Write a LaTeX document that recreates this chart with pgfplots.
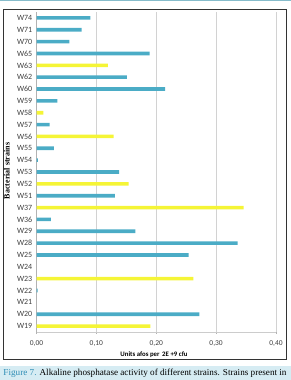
\documentclass[border=0pt]{standalone}
\usepackage{pgfplots}
\pgfplotsset{compat=1.18}
\usepackage{fontspec}
\setmainfont{Liberation Serif}
\newfontfamily\calib{Carlito}
\definecolor{barblue}{HTML}{4BACC6}
\definecolor{baryel}{HTML}{F5F536}
\definecolor{capbg}{HTML}{D6ECF3}
\definecolor{capblue}{HTML}{2E8DB5}
\definecolor{topline}{HTML}{86BCCB}
\begin{document}
\begin{tikzpicture}[x=1pt,y=1pt]
\useasboundingbox (0,0) rectangle (291,380);
\fill[capbg] (0,0) rectangle (291,14.3);
\draw[topline,line width=1.4pt] (0,379.3) -- (291,379.3);
\draw[black!80,line width=0.8pt] (3,371) rectangle (286,21);
\begin{axis}[
  at={(36.5pt,48pt)}, anchor=south west,
  width=239.5pt, height=320pt, scale only axis,
  xmin=0, xmax=0.40, ymin=-0.5, ymax=26.5,
  xbar, bar width=3.6pt,
  axis line style={draw=none},
  axis x line*=bottom, axis y line*=left,
  xtick={0,0.1,0.2,0.3,0.4},
  xticklabel={\pgfmathprintnumber[fixed,fixed zerofill,precision=2,use comma]{\tick}},
  /pgf/number format/assume math mode=true,
  xmajorgrids, major grid style={gray!35,line width=0.9pt},
  x tick style={gray!60}, major tick length=2pt,
  tick align=outside,
  ytick={0,...,26},
  yticklabels={W19,W20,W21,W22,W23,W24,W25,W28,W29,W36,W37,W51,W52,W53,W54,W55,W56,W57,W58,W59,W60,W62,W63,W65,W70,W71,W74},
  y tick style={draw=none},
  minor ytick={-0.5,0.5,...,26.5},
  minor y tick style={gray!60}, minor tick length=2pt,
  ticklabel style={font=\calib\fontsize{8}{9}\selectfont, text=black!75},
  xticklabel style={font=\calib\fontsize{7.5}{8}\selectfont, yshift=-3pt},
  yticklabel style={inner sep=1pt, xshift=-1pt},
  clip=false,
]
\draw[gray!60,line width=0.6pt] (axis cs:0,-0.5) -- (axis cs:0,26.5);
\draw[gray!40,line width=0.6pt] (axis cs:0,-0.5) -- (axis cs:0.4,-0.5);
\addplot[fill=barblue, draw=none, bar shift=0pt] coordinates {
(0.272,1) (0.002,3) (0.254,6) (0.336,7) (0.165,8) (0.024,9)
(0.131,11) (0.138,13) (0.0025,14) (0.029,15) (0.022,17) (0.035,19)
(0.215,20) (0.151,21) (0.189,23) (0.055,24) (0.0755,25) (0.090,26)
};
\addplot[fill=baryel, draw=none, bar shift=0pt] coordinates {
(0.190,0) (0.262,4) (0.346,10) (0.154,12) (0.129,16) (0.0115,18) (0.119,22)
};
\end{axis}
\node[font=\calib\bfseries\fontsize{6.8}{7}\selectfont] at (154,25) {Units afos per\, 2E +9 cfu};
\node[rotate=90, font=\bfseries\fontsize{8}{9}\selectfont] at (7,209) {Bacterial strains};
\node[inner sep=0pt] at (145,7) {\resizebox{283pt}{!}{\fontsize{7.9}{9}\selectfont\textcolor{capblue}{Figure 7.} Alkaline phosphatase activity of different strains. Strains present in}};
\end{tikzpicture}
\end{document}
